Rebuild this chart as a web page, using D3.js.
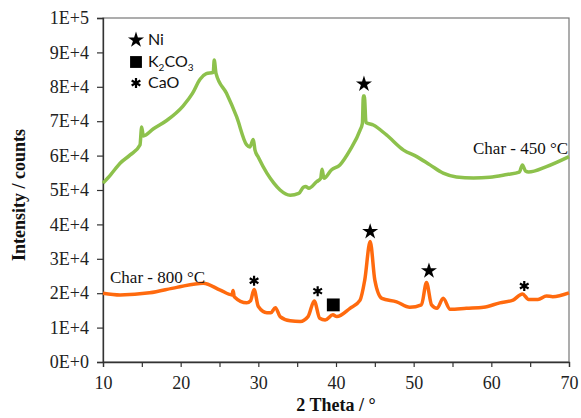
<!DOCTYPE html>
<html>
<head>
<meta charset="utf-8">
<script src="https://cdn.jsdelivr.net/npm/d3@7"></script>
<style>
  body { margin: 0; background: #fff; }
  svg { display: block; }
</style>
</head>
<body>
<svg width="581" height="418"></svg>
<script>
// 2 theta (deg) and intensity (counts)
const char450Theta = [10.0, 11.0, 12.2, 13.5, 14.76, 14.98, 15.19, 16.5, 18.2, 20.3, 21.5, 22.5, 23.3, 24.2, 24.32, 24.55, 25.9, 27.2, 28.5, 28.9, 29.35, 29.57, 30.0, 31.1, 32.0, 32.8, 34.1, 35.2, 35.8, 36.1, 36.5, 37.5, 38.03, 38.2, 38.45, 39.4, 40.5, 41.8, 43.1, 43.4, 43.52, 43.65, 43.86, 44.8, 46.5, 48.7, 50.4, 52.1, 53.8, 55.5, 57.7, 59.8, 62.0, 63.6, 64.0, 64.4, 64.8, 67.1, 70.0];
const char450Counts = [52000, 54500, 57800, 60200, 63100, 68300, 65700, 67800, 70200, 74400, 78000, 82200, 83800, 84200, 87800, 83900, 78100, 71300, 63100, 62500, 64700, 61600, 59500, 54900, 52000, 50000, 48500, 49000, 50800, 51000, 50500, 52400, 53400, 56000, 53400, 55800, 57300, 61600, 67400, 69400, 77300, 77300, 69600, 68900, 66000, 61600, 59700, 57300, 54900, 53800, 53500, 53700, 54500, 55200, 57300, 55500, 55200, 56800, 59700];

const char800Theta = [10.0, 12.2, 16.0, 19.5, 22.9, 25.1, 26.6, 26.75, 26.9, 28.5, 29.0, 29.45, 30.0, 31.1, 31.6, 32.2, 32.8, 34.1, 35.4, 36.4, 37.2, 37.9, 38.6, 39.6, 40.1, 41.8, 43.1, 43.7, 44.4, 45.0, 45.9, 47.8, 49.5, 51.0, 51.65, 52.3, 53.0, 53.8, 54.7, 56.8, 59.0, 61.1, 62.8, 64.0, 64.8, 66.0, 67.1, 67.9, 70.0];
const char800Counts = [20000, 19500, 20100, 21700, 22900, 20900, 19500, 20800, 19000, 17200, 17800, 21100, 16100, 14300, 14300, 15800, 13200, 12000, 11800, 13200, 17700, 12700, 12200, 13700, 13200, 15600, 18000, 23800, 35000, 23800, 18500, 17500, 15900, 16600, 23100, 16600, 15600, 18500, 15300, 15600, 15900, 17200, 18000, 19800, 18200, 18200, 19200, 19000, 20100];

// phase markers: 2 theta, intensity, kind
const markerTheta = [43.6, 44.4, 51.97, 29.45, 37.64, 39.65, 64.24];
const markerCounts = [80800, 37900, 26500, 23600, 20600, 16600, 22100];
const markerKind = ['star', 'star', 'star', 'asterisk', 'asterisk', 'square', 'asterisk'];

const xTicks = [10, 15, 20, 25, 30, 35, 40, 45, 50, 55, 60, 65, 70];
const yTicks = [0, 10000, 20000, 30000, 40000, 50000, 60000, 70000, 80000, 90000, 100000];

const legendNames = ['Ni', 'K2CO3', 'CaO'];
const legendKinds = ['star', 'square', 'asterisk'];

const svg = d3.select('svg');
const plotL = 103, plotR = 569, plotT = 18, plotB = 362;

const x = d3.scaleLinear().domain([10, 70]).range([plotL, plotR]);
const y = d3.scaleLinear().domain([0, 100000]).range([plotB, plotT]);

const serif = '"Liberation Serif", "Times New Roman", serif';
const sans = 'Lato, "Open Sans", sans-serif';

// frame
svg.append('rect')
  .attr('x', plotL).attr('y', plotT)
  .attr('width', plotR - plotL).attr('height', plotB - plotT)
  .attr('fill', 'none').attr('stroke', '#777').attr('stroke-width', 1.2);

const yFmt = v => v === 0 ? '0E+0' : (v === 100000 ? '1E+5' : `${v / 10000}E+4`);

const yAxis = svg.append('g')
  .attr('transform', `translate(${plotL},0)`)
  .call(d3.axisLeft(y).tickValues(yTicks).tickFormat(yFmt).tickSize(6).tickPadding(8));
const xAxis = svg.append('g')
  .attr('transform', `translate(0,${plotB})`)
  .call(d3.axisBottom(x).tickValues(xTicks).tickFormat(d => d % 10 === 0 ? d : '').tickSize(5).tickPadding(9));

[xAxis, yAxis].forEach(a => {
  a.select('.domain').attr('stroke', '#333').attr('stroke-width', 1.3);
  a.selectAll('.tick line').attr('stroke', '#333').attr('stroke-width', 1.2);
  a.selectAll('text').attr('font-family', serif).attr('font-size', 18).attr('fill', '#222');
});

// curves
const line = d3.line()
  .curve(d3.curveMonotoneX)
  .x(d => x(d[0]))
  .y(d => y(d[1]));

svg.append('path')
  .datum(d3.zip(char450Theta, char450Counts))
  .attr('d', line)
  .attr('fill', 'none')
  .attr('stroke', '#8dc14c')
  .attr('stroke-width', 3.5)
  .attr('stroke-linejoin', 'round');

svg.append('path')
  .datum(d3.zip(char800Theta, char800Counts))
  .attr('d', line)
  .attr('fill', 'none')
  .attr('stroke', '#ff6a0e')
  .attr('stroke-width', 3.5)
  .attr('stroke-linejoin', 'round');

// marker shapes
const asteriskType = d3.symbolAsterisk || d3.symbolCross;
function drawMarker(g, kind, cx, cy, scale) {
  if (kind === 'star') {
    g.append('path')
      .attr('d', d3.symbol().type(d3.symbolStar).size(80 * scale)())
      .attr('transform', `translate(${cx},${cy})`)
      .attr('fill', '#000');
  } else if (kind === 'square') {
    g.append('path')
      .attr('d', d3.symbol().type(d3.symbolSquare).size(165 * scale)())
      .attr('transform', `translate(${cx},${cy})`)
      .attr('fill', '#000');
  } else {
    g.append('path')
      .attr('d', d3.symbol().type(asteriskType).size(70 * scale)())
      .attr('transform', `translate(${cx},${cy})`)
      .attr('fill', 'none')
      .attr('stroke', '#000')
      .attr('stroke-width', 2.2);
  }
}

const marks = svg.append('g');
markerTheta.forEach((t, i) => {
  drawMarker(marks, markerKind[i], x(t), y(markerCounts[i]), 1);
});

// legend
const legend = svg.append('g');
const legendY = [40, 62, 83];
legendKinds.forEach((k, i) => {
  drawMarker(legend, k, 136, legendY[i], k === 'square' ? 0.85 : 1);
});
legend.selectAll('text')
  .data(legendNames)
  .enter()
  .append('text')
  .attr('x', 148)
  .attr('y', (d, i) => legendY[i] + 5)
  .attr('font-family', sans)
  .attr('font-size', 16)
  .attr('fill', '#111')
  .each(function(d) {
    const t = d3.select(this);
    if (d === 'K2CO3') {
      t.append('tspan').text('K');
      t.append('tspan').text('2').attr('font-size', 10).attr('dy', 4);
      t.append('tspan').text('CO').attr('dy', -4);
      t.append('tspan').text('3').attr('font-size', 10).attr('dy', 4);
    } else {
      t.text(d);
    }
  });

// series labels
svg.append('text')
  .attr('x', 473).attr('y', 154)
  .attr('font-family', serif).attr('font-size', 17).attr('fill', '#111')
  .text('Char - 450 °C');
svg.append('text')
  .attr('x', 110).attr('y', 283)
  .attr('font-family', serif).attr('font-size', 17).attr('fill', '#111')
  .text('Char - 800 °C');

// axis titles
svg.append('text')
  .attr('x', (plotL + plotR) / 2).attr('y', 411)
  .attr('text-anchor', 'middle')
  .attr('font-family', serif).attr('font-weight', 'bold').attr('font-size', 18)
  .attr('fill', '#111')
  .text('2 Theta / °');
svg.append('text')
  .attr('transform', `translate(25,195) rotate(-90)`)
  .attr('text-anchor', 'middle')
  .attr('font-family', serif).attr('font-weight', 'bold').attr('font-size', 18)
  .attr('fill', '#111')
  .text('Intensity / counts');
</script>
</body>
</html>
